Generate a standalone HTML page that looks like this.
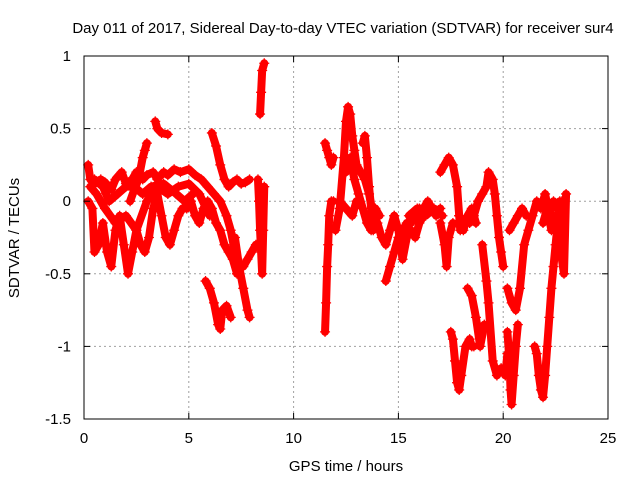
<!DOCTYPE html>
<html><head><meta charset="utf-8"><style>
body{margin:0;background:#fff}
svg{display:block;font-family:"Liberation Sans",sans-serif}
</style></head><body>
<svg id="chart" width="640" height="480">
<rect width="640" height="480" fill="#fff"/>
<g id="grid"></g>
<g id="marks"></g>
<rect x="84" y="56" width="524" height="363" fill="none" stroke="#000" stroke-width="1"/>
<g id="ticks"></g>
<text x="343" y="33" text-anchor="middle" font-size="15">Day 011 of 2017, Sidereal Day-to-day VTEC variation (SDTVAR) for receiver sur4</text>
<text x="346" y="471" text-anchor="middle" font-size="15">GPS time / hours</text>
<text transform="translate(19,238) rotate(-90)" text-anchor="middle" font-size="15">SDTVAR / TECUs</text>
</svg>
<script>
const xTicks=[0,5,10,15,20,25];
const yTicks=[1,0.5,0,-0.5,-1,-1.5];
const yTickLabels=["1","0.5","0","-0.5","-1","-1.5"];
const tA=[[0.2,0.25],[0.3,0.15],[0.5,0.12],[0.8,0.15],[1.0,0.13],[1.3,0.08],[1.5,0.15],[1.8,0.2],[2.0,0.12],[2.3,0.15],[2.5,0.2],[2.8,0.15],[3.0,0.18],[3.3,0.2],[3.5,0.15],[3.8,0.2],[4.0,0.18],[4.3,0.22],[4.6,0.2],[5.0,0.22],[5.3,0.18],[5.6,0.15],[5.9,0.1],[6.2,0.05],[6.5,0.0],[6.8,-0.1],[7.0,-0.2],[7.2,-0.35],[7.4,-0.45],[7.6,-0.45],[7.8,-0.4],[8.0,-0.35],[8.2,-0.3]];
const tB=[[0.2,0.0],[0.4,-0.05],[0.5,-0.35],[0.7,-0.3],[0.9,-0.15],[1.1,-0.35],[1.3,-0.45],[1.5,-0.2],[1.7,-0.1],[1.9,-0.3],[2.1,-0.5],[2.3,-0.35],[2.5,-0.2],[2.7,-0.3],[2.9,-0.35],[3.1,-0.25],[3.3,-0.05],[3.5,0.05],[3.7,-0.1],[3.9,-0.25],[4.1,-0.3],[4.3,-0.2],[4.5,-0.1],[4.7,-0.05],[4.9,-0.05],[5.1,0.0],[5.3,-0.1],[5.5,-0.15],[5.7,-0.05],[5.9,0.0],[6.1,-0.05],[6.3,-0.15],[6.5,-0.2],[6.7,-0.3],[6.9,-0.35],[7.1,-0.4],[7.3,-0.5],[7.5,-0.45]];
const tC=[[0.3,0.1],[0.6,0.05],[1.0,-0.05],[1.5,-0.15],[2.0,-0.1],[2.5,-0.2],[3.0,0.0],[3.5,0.1],[4.0,0.05],[4.5,0.1],[5.0,0.12],[5.5,0.05],[6.0,-0.1]];
const tC2=[[0.5,0.15],[0.9,0.1],[1.2,0.0],[1.6,0.05],[2.0,0.1],[2.4,0.1],[2.8,0.05],[3.2,0.1],[3.8,0.12],[4.4,0.05],[4.8,0.0],[5.2,0.05]];
const tD=[[3.4,0.55],[3.5,0.5],[3.7,0.47],[4.0,0.46]];
const tE=[[2.2,0.0],[2.4,0.08],[2.6,0.15],[2.8,0.3],[2.9,0.35],[3.0,0.4]];
const tF=[[5.8,-0.55],[6.0,-0.6],[6.2,-0.7],[6.4,-0.85],[6.5,-0.88],[6.6,-0.75],[6.8,-0.72],[7.0,-0.8]];
const tG=[[6.1,0.47],[6.3,0.38],[6.5,0.25],[6.7,0.15],[6.9,0.1],[7.1,0.13],[7.3,0.15],[7.5,0.12],[7.7,0.13],[7.9,0.15]];
const tH=[[7.2,-0.25],[7.4,-0.45],[7.6,-0.6],[7.8,-0.75],[7.9,-0.8]];
const tI=[[8.3,0.15],[8.35,0.0],[8.4,-0.2],[8.45,-0.35],[8.5,-0.5],[8.55,-0.2],[8.6,0.1]];
const tI2=[[8.4,0.6],[8.45,0.75],[8.5,0.9],[8.6,0.95]];
const tJ=[[11.5,-0.9],[11.55,-0.7],[11.6,-0.45],[11.65,-0.3],[11.7,-0.1],[11.8,0.0],[11.9,0.0]];
const tJ2=[[11.5,0.4],[11.6,0.35],[11.7,0.3],[11.8,0.25],[11.9,0.3]];
const tK=[[12.0,-0.2],[12.2,-0.05],[12.4,0.3],[12.5,0.55],[12.6,0.65],[12.7,0.6],[12.8,0.45],[12.9,0.35],[13.0,0.25],[13.2,0.2],[13.4,0.15],[13.6,0.05],[13.8,-0.1],[14.0,-0.15],[14.2,-0.25],[14.4,-0.3],[14.6,-0.2],[14.8,-0.1]];
const tK2=[[12.5,0.2],[12.7,0.3],[12.9,0.15],[13.1,0.05],[13.3,-0.05],[13.5,-0.15],[13.7,-0.2],[13.9,-0.05],[14.1,-0.1]];
const tL=[[13.3,0.4],[13.4,0.45],[13.5,0.3],[13.6,0.1],[13.7,-0.05],[13.8,-0.2]];
const tM=[[12.2,0.0],[12.5,-0.05],[12.8,-0.1],[13.0,0.0]];
const tN=[[14.4,-0.55],[14.6,-0.45],[14.8,-0.35],[15.0,-0.25],[15.2,-0.2],[15.4,-0.15],[15.6,-0.15],[15.8,-0.1],[16.0,-0.05],[16.2,-0.05],[16.4,0.0],[16.6,-0.05],[16.8,-0.1],[17.0,-0.05]];
const tO=[[14.8,-0.1],[15.0,-0.2],[15.2,-0.4],[15.4,-0.25],[15.6,-0.2],[15.8,-0.25],[16.0,-0.15],[16.2,-0.1]];
const tO2=[[15.5,-0.1],[15.9,-0.05],[16.3,-0.1],[16.7,-0.05],[17.1,-0.1]];
const tP=[[17.0,0.2],[17.2,0.25],[17.4,0.3],[17.6,0.25],[17.8,0.1],[17.9,-0.1],[17.95,-0.2]];
const tQ=[[17.0,-0.15],[17.2,-0.3],[17.3,-0.45],[17.4,-0.25],[17.6,-0.15]];
const tR=[[17.5,-0.9],[17.6,-0.95],[17.7,-1.1],[17.8,-1.25],[17.9,-1.3],[18.0,-1.2],[18.2,-1.0],[18.4,-0.95],[18.5,-1.0],[18.6,-1.0]];
const tS=[[18.3,-0.6],[18.5,-0.65],[18.7,-0.8],[18.9,-1.0],[19.1,-0.85]];
const tT=[[18.4,-0.15],[18.6,-0.1],[18.8,0.0],[19.0,0.05],[19.2,0.1],[19.3,0.2],[19.5,0.15],[19.6,0.05],[19.7,-0.1],[19.8,-0.25],[19.9,-0.35],[20.0,-0.45]];
const tT2=[[17.9,-0.1],[18.1,-0.2],[18.3,-0.1],[18.5,-0.05],[18.7,-0.15]];
const tU=[[19.0,-0.3],[19.2,-0.55],[19.3,-0.7],[19.5,-1.1],[19.7,-1.2],[19.9,-1.15],[20.1,-1.2],[20.2,-1.05]];
const tV=[[20.2,-0.6],[20.4,-0.7],[20.6,-0.75],[20.8,-0.6],[21.0,-0.3],[21.2,-0.2],[21.4,-0.1],[21.6,0.0],[21.8,-0.05],[22.0,0.05],[22.2,-0.1],[22.4,0.0],[22.6,-0.05],[22.8,0.0]];
const tV2=[[21.9,-0.15],[22.1,-0.05],[22.3,-0.2],[22.5,-0.1],[22.7,-0.2],[22.8,-0.1]];
const tW=[[20.2,-0.9],[20.3,-1.1],[20.35,-1.3],[20.4,-1.4],[20.5,-1.2],[20.6,-1.0],[20.7,-0.85]];
const tX=[[21.5,-1.0],[21.6,-1.05],[21.7,-1.2],[21.8,-1.3],[21.9,-1.35],[22.0,-1.2],[22.1,-1.0],[22.2,-0.8],[22.3,-0.6],[22.4,-0.45],[22.5,-0.3],[22.6,-0.15],[22.7,0.0]];
const tY=[[22.6,-0.1],[22.7,-0.25],[22.8,-0.4],[22.9,-0.5],[23.0,0.05]];
const tZ=[[20.3,-0.2],[20.5,-0.15],[20.7,-0.1],[20.9,-0.05],[21.1,-0.1]];
const tracks=[tA,tB,tC,tC2,tD,tE,tF,tG,tH,tI,tI2,tJ,tJ2,tK,tK2,tL,tM,tN,tO,tO2,tP,tQ,tR,tS,tT,tT2,tU,tV,tV2,tW,tX,tY,tZ];

const NS="http://www.w3.org/2000/svg";
const X0=84,X1=608,Y0=419,Y1=56;
function sx(v){return X0+(v-0)/(25-0)*(X1-X0);}
function sy(v){return Y0-(v-(-1.5))/(1-(-1.5))*(Y0-Y1);}
function mk(tag,attrs,parent){const e=document.createElementNS(NS,tag);for(const k in attrs)e.setAttribute(k,attrs[k]);parent.appendChild(e);return e;}
const grid=document.getElementById('grid'),ticks=document.getElementById('ticks'),marks=document.getElementById('marks');
xTicks.forEach((t,i)=>{
  const x=sx(t);
  if(i>0&&i<xTicks.length-1){const g=mk('line',{x1:x,x2:x,y1:Y1,y2:Y0,stroke:'#a0a0a0','stroke-dasharray':'2,3'},grid);
  
  }
  mk('line',{x1:x,x2:x,y1:Y0,y2:Y0-6,stroke:'#000'},ticks);
  mk('line',{x1:x,x2:x,y1:Y1,y2:Y1+6,stroke:'#000'},ticks);
  const tx=mk('text',{x:x,y:443,'text-anchor':'middle','font-size':15},ticks);
  tx.textContent=String(t);
  
  
});
yTicks.forEach((t,i)=>{
  const y=sy(t);
  if(i>0&&i<yTicks.length-1){const g=mk('line',{x1:X0,x2:X1,y1:y,y2:y,stroke:'#a0a0a0','stroke-dasharray':'2,3'},grid);
  
  }
  mk('line',{x1:X0,x2:X0+6,y1:y,y2:y,stroke:'#000'},ticks);
  mk('line',{x1:X1,x2:X1-6,y1:y,y2:y,stroke:'#000'},ticks);
  const tx=mk('text',{x:71,y:y+5,'text-anchor':'end','font-size':15},ticks);
  tx.textContent=yTickLabels[i];
  
  
});
tracks.forEach(tr=>{
  const pl=mk('polyline',{points:tr.map(p=>sx(p[0])+','+sy(p[1])).join(' '),fill:'none',stroke:'#f00','stroke-width':8,'stroke-linejoin':'round','stroke-linecap':'round'},marks);
  
  
  let d='';
  tr.forEach(p=>{const x=sx(p[0]),y=sy(p[1]);d+=`M${x-5},${y}h10M${x},${y-5}v10`;});
  const pm=mk('path',{d:d,stroke:'#f00','stroke-width':1.3,fill:'none'},marks);
  
  
});
</script>
</body></html>
